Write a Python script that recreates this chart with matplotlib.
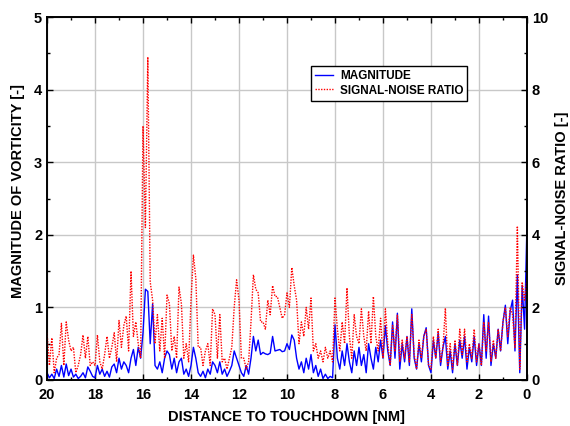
import numpy as np
import matplotlib.pyplot as plt
from matplotlib.ticker import MultipleLocator

plt.rcParams['font.family'] = ['Liberation Sans', 'DejaVu Sans']
plt.rcParams['font.weight'] = 'bold'

# distance to touchdown, 20 NM down to 0 NM in 0.1 NM steps
dist = np.round(np.arange(200, -1, -1) * 0.1, 1)

# vorticity magnitude [-], one row per NM (20.0 ... 19.1, 19.0 ... 18.1, ...)
magnitude = [
    0.10, 0.03, 0.08, 0.02, 0.15, 0.05, 0.20, 0.04, 0.22, 0.06,
    0.15, 0.04, 0.08, 0.02, 0.05, 0.10, 0.03, 0.18, 0.12, 0.05,
    0.03, 0.20, 0.08, 0.15, 0.05, 0.12, 0.04, 0.18, 0.22, 0.10,
    0.30, 0.15, 0.25, 0.20, 0.10, 0.30, 0.42, 0.20, 0.45, 0.30,
    0.65, 1.25, 1.22, 0.50, 1.05, 0.20, 0.15, 0.25, 0.10, 0.30,
    0.40, 0.35, 0.15, 0.30, 0.10, 0.25, 0.30, 0.08, 0.15, 0.05,
    0.20, 0.45, 0.30, 0.10, 0.05, 0.12, 0.03, 0.15, 0.08, 0.25,
    0.20, 0.10, 0.25, 0.08, 0.15, 0.05, 0.12, 0.20, 0.40, 0.30,
    0.20, 0.10, 0.05, 0.20, 0.08, 0.30, 0.60, 0.40, 0.55, 0.35,
    0.38, 0.36, 0.35, 0.37, 0.60, 0.40, 0.41, 0.42, 0.39, 0.40,
    0.50, 0.42, 0.62, 0.55, 0.30, 0.15, 0.25, 0.10, 0.30, 0.15,
    0.35, 0.10, 0.20, 0.05, 0.15, 0.02, 0.08, 0.02, 0.05, 0.03,
    0.76, 0.30, 0.15, 0.40, 0.20, 0.50, 0.25, 0.10, 0.40, 0.20,
    0.45, 0.20, 0.35, 0.10, 0.50, 0.30, 0.15, 0.45, 0.25, 0.55,
    0.30, 0.75, 0.40, 0.20, 0.80, 0.30, 0.92, 0.15, 0.50, 0.25,
    0.60, 0.20, 0.98, 0.30, 0.15, 0.50, 0.25, 0.60, 0.72, 0.20,
    0.10, 0.55, 0.30, 0.65, 0.20, 0.45, 0.60, 0.15, 0.40, 0.10,
    0.50, 0.20, 0.55, 0.30, 0.60, 0.15, 0.45, 0.25, 0.60, 0.20,
    0.50, 0.20, 0.90, 0.30, 0.88, 0.20, 0.50, 0.30, 0.70, 0.40,
    0.80, 1.03, 0.50, 0.95, 1.10, 0.40, 1.45, 0.10, 1.30, 0.70,
    2.15,
]

# signal-noise ratio [-]
snr = [
    1.30, 0.40, 1.16, 0.20, 0.60, 0.70, 1.56, 0.40, 1.60, 1.10,
    0.80, 0.90, 0.20, 0.40, 0.70, 1.24, 0.60, 1.20, 0.40, 0.50,
    0.40, 1.24, 0.50, 0.30, 0.70, 1.20, 0.60, 0.90, 1.30, 0.50,
    1.64, 0.90, 1.50, 1.76, 0.80, 3.00, 1.20, 1.60, 1.00, 0.60,
    7.00, 4.20, 8.90, 2.70, 2.20, 1.00, 1.80, 0.80, 1.70, 0.60,
    2.34, 2.10, 0.80, 1.20, 0.60, 2.56, 2.10, 0.60, 1.00, 0.50,
    2.20, 3.44, 2.80, 0.90, 0.90, 0.40, 0.80, 1.00, 0.40, 1.96,
    1.80, 0.60, 1.80, 0.50, 0.60, 0.30, 0.60, 0.90, 2.00, 2.76,
    2.20, 0.60, 0.60, 0.30, 0.50, 1.60, 2.90, 2.50, 2.40, 1.60,
    1.60, 1.40, 2.20, 1.80, 2.60, 2.30, 2.30, 2.00, 1.70, 1.80,
    2.40, 2.00, 3.10, 2.60, 2.20, 1.00, 1.60, 1.20, 2.00, 1.40,
    2.26, 0.80, 1.00, 0.60, 0.80, 0.50, 0.90, 0.60, 0.80, 0.50,
    2.26, 1.40, 0.80, 1.60, 1.00, 2.54, 1.20, 0.60, 1.80, 1.20,
    1.00, 1.96, 1.20, 0.80, 1.90, 1.00, 2.30, 1.20, 0.80, 1.70,
    0.60, 1.96, 1.00, 0.40, 1.50, 0.80, 1.80, 0.50, 1.10, 0.60,
    1.20, 0.50, 1.80, 0.70, 0.30, 1.10, 0.60, 1.20, 1.40, 0.40,
    0.30, 1.20, 0.60, 1.40, 0.50, 0.90, 1.98, 0.40, 1.00, 0.30,
    1.10, 0.40, 1.40, 0.70, 1.40, 0.50, 1.00, 0.60, 1.40, 0.50,
    1.00, 0.40, 1.60, 0.80, 1.60, 0.50, 1.10, 0.60, 1.40, 0.80,
    1.60, 2.00, 1.20, 2.00, 1.80, 0.90, 4.24, 0.30, 2.70, 2.20,
    2.80,
]

fig = plt.figure(figsize=(5.70, 4.26), dpi=100)
ax = fig.add_axes([0.0825, 0.108, 0.842, 0.852])
ax2 = ax.twinx()

l1, = ax.plot(dist, magnitude, color='#0000ff', linewidth=1.0, label='MAGNITUDE')
l2, = ax2.plot(dist, snr, color='#ff0000', linewidth=1.0, linestyle=(0, (1, 1)),
               label='SIGNAL-NOISE RATIO')

ax.set_xlim(20, 0)
ax.set_ylim(0, 5)
ax2.set_ylim(0, 10)

ax.xaxis.set_major_locator(MultipleLocator(2))
ax.xaxis.set_minor_locator(MultipleLocator(1))
ax.yaxis.set_major_locator(MultipleLocator(1))
ax.yaxis.set_minor_locator(MultipleLocator(0.5))
ax2.yaxis.set_major_locator(MultipleLocator(2))
ax2.yaxis.set_minor_locator(MultipleLocator(1))

ax.tick_params(axis='both', which='both', direction='in', top=True, labelsize=10.5)
ax.tick_params(axis='x', which='major', pad=6)
ax.tick_params(which='major', length=4, width=1)
ax.tick_params(which='minor', length=2.5, width=1)
ax2.tick_params(axis='y', which='both', direction='in', labelsize=10.5)
ax2.tick_params(which='major', length=4, width=1)
ax2.tick_params(which='minor', length=2.5, width=1)
for a in (ax, ax2):
    for s in a.spines.values():
        s.set_linewidth(1.2)

ax.grid(True, which='major', color='#c8c8c8', linewidth=1.0)
ax.set_axisbelow(True)

ax.set_xlabel('DISTANCE TO TOUCHDOWN [NM]', fontsize=10.5, fontweight='bold')
ax.xaxis.set_label_coords(0.5, -0.083)
ax.set_ylabel('MAGNITUDE OF VORTICITY [-]', fontsize=10.5, fontweight='bold')
ax2.set_ylabel('SIGNAL-NOISE RATIO [-]', fontsize=10.5, fontweight='bold')
ax.yaxis.set_label_coords(-0.045, 0.52)
ax2.yaxis.set_label_coords(1.058, 0.5)

leg = ax2.legend(handles=[l1, l2], loc='upper left', bbox_to_anchor=(0.5375, 0.881),
                 fancybox=False, framealpha=1, edgecolor='black',
                 prop={'size': 8.5, 'weight': 'bold'}, handlelength=1.5,
                 handletextpad=0.6, borderpad=0.35, labelspacing=0.2)
leg.get_frame().set_linewidth(1.0)

fig.savefig('out.png', dpi=100)
